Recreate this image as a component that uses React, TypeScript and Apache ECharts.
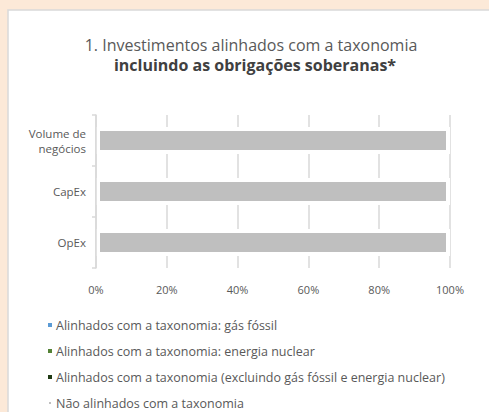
import React, { useEffect, useRef } from "react";
import * as echarts from "echarts";

const categories = ["Volume de\nnegócios", "CapEx", "OpEx"];
const seriesNames = [
  "Alinhados com a taxonomia: gás fóssil",
  "Alinhados com a taxonomia: energia nuclear",
  "Alinhados com a taxonomia (excluindo gás fóssil e energia nuclear)",
  "Não alinhados com a taxonomia",
];
const gasFossil = [0, 0, 0];
const energiaNuclear = [0, 0, 0];
const excluindo = [0, 0, 0];
const naoAlinhados = [100, 100, 100];
const seriesColors = ["#5B9BD5", "#548235", "#1F3A13", "#BFBFBF"];
const xTicks = [0, 20, 40, 60, 80, 100];

export default function App() {
  const ref = useRef<HTMLDivElement>(null);
  useEffect(() => {
    if (!ref.current) return;
    const chart = echarts.init(ref.current, null, { renderer: "svg" });
    const font = "'Open Sans', sans-serif";
    const data = [gasFossil, energiaNuclear, excluindo, naoAlinhados];
    chart.setOption({
      animation: false,
      backgroundColor: "#FCE9D8",
      textStyle: { fontFamily: font },
      graphic: [
        {
          type: "rect",
          shape: { x: 8, y: 10, width: 600, height: 500 },
          style: { fill: "#FFFFFF", stroke: "#D9D9D9", lineWidth: 1.5 },
          z: -10,
        },
        {
          type: "text",
          x: 251,
          y: 45,
          style: {
            text: "1. Investimentos alinhados com a taxonomia",
            fill: "#595959",
            font: `16px ${font}`,
            align: "center",
            verticalAlign: "middle",
          },
        },
        {
          type: "text",
          x: 255,
          y: 65,
          style: {
            text: "incluindo as obrigações soberanas*",
            fill: "#404040",
            font: `bold 16px ${font}`,
            align: "center",
            verticalAlign: "middle",
          },
        },
      ],
      legend: {
        orient: "vertical",
        left: 42,
        top: 312,
        height: 200,
        itemGap: 10,
        itemWidth: 4,
        itemHeight: 4,
        icon: "rect",
        data: seriesNames,
        textStyle: { color: "#595959", fontSize: 12.5, fontFamily: font, padding: [0, 0, 0, -1], lineHeight: 16 },
      },
      grid: { left: 96, right: 39, top: 115, bottom: 144, containLabel: false },
      xAxis: {
        type: "value",
        min: 0,
        max: 100,
        interval: 20,
        axisLine: { show: false },
        axisTick: { show: false },
        axisLabel: {
          formatter: (v: number) => (xTicks.includes(v) ? `${v}%` : ""),
          color: "#595959",
          fontSize: 11,
          margin: 16,
        },
        splitLine: { show: true, lineStyle: { color: "#D9D9D9", width: 1.5 } },
      },
      yAxis: {
        type: "category",
        inverse: true,
        data: categories,
        z: 10,
        axisLine: { show: true, lineStyle: { color: "#D9D9D9", width: 1.5 } },
        axisTick: { show: true, length: 4, lineStyle: { color: "#D9D9D9", width: 1.5 } },
        axisLabel: { color: "#595959", fontSize: 11.5, margin: 10, lineHeight: 15 },
      },
      series: seriesNames.map((name, i) => ({
        name,
        type: "bar",
        stack: "total",
        barWidth: 27,
        data: data[i],
        itemStyle: {
          color: seriesColors[i],
          borderColor: "#FFFFFF",
          borderWidth: i === 3 ? 4 : 0,
        },
      })),
    });
    return () => chart.dispose();
  }, []);
  return (
    <div
      ref={ref}
      style={{ position: "fixed", left: 0, top: 0, width: 489, height: 412 }}
    />
  );
}
